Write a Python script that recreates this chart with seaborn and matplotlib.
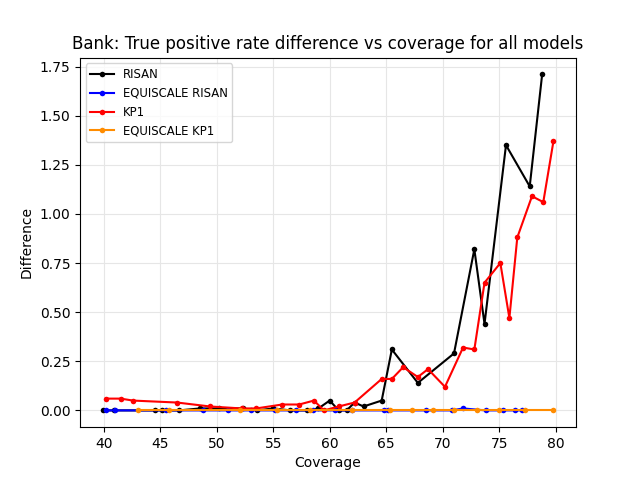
import matplotlib
matplotlib.use("Agg")
import matplotlib.pyplot as plt
import seaborn as sns

risan_x = [39.9, 40.9, 44.5, 45.2, 46.7, 48.5, 50.2, 52.3, 53.6, 55.0, 56.5, 58.0, 59.0, 60.0, 60.8, 61.5, 62.2, 63.0, 64.6, 65.5, 67.8, 71.0, 72.8, 73.7, 75.6, 77.7, 78.8]
risan_y = [0, 0, 0, 0, 0, 0.01, 0.01, 0.01, 0, 0.01, 0, 0, 0.01, 0.05, 0, 0, 0.04, 0.02, 0.05, 0.31, 0.14, 0.29, 0.82, 0.44, 1.35, 1.14, 1.71]
eq_risan_x = [40.2, 41.0, 45.5, 48.8, 51.0, 53.0, 55.2, 57.0, 58.5, 60.5, 62.0, 64.8, 65.2, 68.5, 70.8, 71.8, 73.8, 75.3, 76.4, 77.0]
eq_risan_y = [0, 0, 0, 0, 0, 0, 0, 0, 0, 0, 0, 0, 0, 0, 0, 0.01, 0, 0, 0, 0]
kp1_x = [40.2, 41.5, 42.6, 46.5, 49.4, 52.2, 53.5, 55.8, 57.3, 58.6, 59.5, 60.8, 62.2, 64.6, 65.5, 66.5, 67.8, 68.7, 70.2, 71.8, 72.8, 73.7, 75.1, 75.9, 76.6, 77.9, 78.9, 79.8]
kp1_y = [0.06, 0.06, 0.05, 0.04, 0.02, 0.01, 0.01, 0.03, 0.03, 0.05, 0, 0.02, 0.04, 0.16, 0.16, 0.22, 0.17, 0.21, 0.12, 0.32, 0.31, 0.65, 0.75, 0.47, 0.88, 1.09, 1.06, 1.37]
eq_kp1_x = [43.0, 45.8, 52.1, 55.3, 58.3, 62.0, 65.3, 67.3, 69.1, 71.0, 73.0, 75.0, 77.3, 79.8]
eq_kp1_y = [0] * len(eq_kp1_x)

fig, ax = plt.subplots(figsize=(6.4, 4.8))
series = [("RISAN", risan_x, risan_y, "black"),
          ("EQUISCALE RISAN", eq_risan_x, eq_risan_y, "blue"),
          ("KP1", kp1_x, kp1_y, "red"),
          ("EQUISCALE KP1", eq_kp1_x, eq_kp1_y, "darkorange")]
for name, xs, ys, c in series:
    sns.lineplot(x=xs, y=ys, ax=ax, color=c, marker="o", markersize=4,
                 markeredgewidth=0, label=name, sort=False)
ax.grid(True, color="#e6e6e6", linewidth=0.8)
ax.set_yticks([0, 0.25, 0.5, 0.75, 1.0, 1.25, 1.5, 1.75])
ax.set_xlabel("Coverage")
ax.set_ylabel("Difference")
ax.set_title("Bank: True positive rate difference vs coverage for all models")
ax.legend(loc="upper left", fontsize="small")
plt.savefig("out.png", dpi=100)
